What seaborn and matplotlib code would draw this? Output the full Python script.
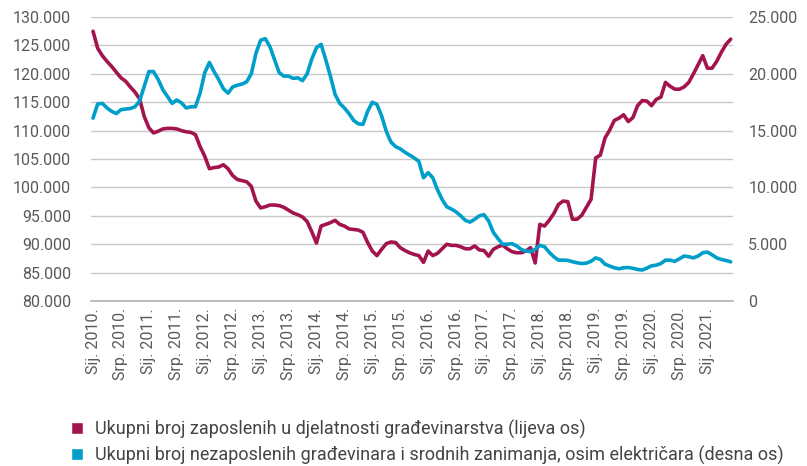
import numpy as np
import pandas as pd
import matplotlib.pyplot as plt
import matplotlib.ticker as mticker
from matplotlib.patches import Patch
import seaborn as sns

# mjesečni podaci, sij. 2010. - lip. 2021.
months = pd.date_range("2010-01-01", "2021-06-01", freq="MS")

# ukupni broj zaposlenih u građevinarstvu (lijeva os), u tisućama
employed_k = [
    127.5, 124.5, 123.2, 122.2, 121.3, 120.3, 119.3, 118.7, 117.7, 116.8, 115.6, 112.5,
    110.5, 109.6, 109.9, 110.3, 110.4, 110.4, 110.3, 110.0, 109.8, 109.7, 109.3, 107.2,
    105.5, 103.3, 103.5, 103.6, 104.0, 103.3, 102.1, 101.4, 101.2, 101.0, 100.2, 97.6,
    96.4, 96.6, 96.9, 96.9, 96.8, 96.5, 96.0, 95.5, 95.2, 94.8, 94.0, 92.2,
    90.2, 93.2, 93.5, 93.8, 94.2, 93.5, 93.2, 92.7, 92.6, 92.5, 92.1, 90.3,
    88.8, 88.0, 89.1, 90.1, 90.4, 90.3, 89.4, 88.9, 88.5, 88.2, 88.0, 86.8,
    88.8, 88.0, 88.4, 89.2, 90.0, 89.8, 89.8, 89.55, 89.2, 89.2, 89.7, 89.0,
    88.9, 87.9, 89.1, 89.55, 89.85, 89.2, 88.7, 88.5, 88.5, 88.8, 89.4, 86.7,
    93.5, 93.2, 94.2, 95.4, 97.0, 97.6, 97.5, 94.4, 94.4, 95.1, 96.5, 97.9,
    105.2, 105.7, 108.7, 110.1, 111.8, 112.2, 112.8, 111.6, 112.3, 114.4, 115.3, 115.2,
    114.4, 115.5, 115.9, 118.5, 117.8, 117.3, 117.3, 117.7, 118.5, 120.0, 121.6, 123.2,
    121.0, 121.0, 122.2, 123.8, 125.2, 126.1,
]

# nezaposleni građevinari (desna os), u tisućama
unemployed_k = [
    16.1, 17.35, 17.4, 17.0, 16.7, 16.5, 16.85, 16.9, 16.95, 17.1, 17.6, 18.9,
    20.2, 20.2, 19.5, 18.6, 18.0, 17.4, 17.7, 17.45, 17.0, 17.1, 17.1, 18.3,
    20.1, 21.0, 20.2, 19.5, 18.7, 18.3, 18.85, 19.0, 19.1, 19.3, 20.0, 21.8,
    22.95, 23.1, 22.4, 21.25, 20.1, 19.8, 19.8, 19.6, 19.65, 19.4, 20.0, 21.3,
    22.3, 22.6, 21.25, 19.8, 18.2, 17.4, 17.0, 16.5, 15.9, 15.6, 15.55, 16.7,
    17.5, 17.3, 16.3, 14.95, 14.0, 13.6, 13.4, 13.1, 12.85, 12.6, 12.3, 10.85,
    11.3, 10.85, 9.8, 8.95, 8.3, 8.1, 7.85, 7.5, 7.1, 6.95, 7.2, 7.5,
    7.6, 7.05, 6.05, 5.5, 5.0, 5.0, 5.05, 4.85, 4.55, 4.4, 4.35, 4.55,
    4.9, 4.78, 4.3, 3.9, 3.6, 3.6, 3.58, 3.46, 3.37, 3.3, 3.34, 3.5,
    3.8, 3.66, 3.25, 3.08, 2.93, 2.84, 2.93, 2.95, 2.88, 2.78, 2.73, 2.9,
    3.1, 3.16, 3.3, 3.6, 3.6, 3.49, 3.72, 3.96, 3.9, 3.8, 3.96, 4.25,
    4.31, 4.07, 3.8, 3.66, 3.57, 3.45,
]

tick_labels = [
    "Sij. 2010.", "Srp. 2010.", "Sij. 2011.", "Srp. 2011.", "Sij. 2012.", "Srp. 2012.",
    "Sij. 2013.", "Srp. 2013.", "Sij. 2014.", "Srp. 2014.", "Sij. 2015.", "Srp. 2015.",
    "Sij. 2016.", "Srp. 2016.", "Sij. 2017.", "Srp. 2017.", "Sij. 2018.", "Srp. 2018.",
    "Sij. 2019.", "Srp. 2019.", "Sij. 2020.", "Srp. 2020.", "Sij. 2021.",
]

legend_labels = [
    "Ukupni broj zaposlenih u djelatnosti građevinarstva (lijeva os)",
    "Ukupni broj nezaposlenih građevinara i srodnih zanimanja, osim električara (desna os)",
]

CRIMSON = "#A3144E"
CYAN = "#009FCA"
GREY_TXT = "#5A5A5A"

df = pd.DataFrame({
    "idx": np.arange(len(months)),
    "employed": np.array(employed_k) * 1000,
    "unemployed": np.array(unemployed_k) * 1000,
})

sns.set_style("white")
plt.rcParams["font.family"] = ["Roboto", "DejaVu Sans"]

fig = plt.figure(figsize=(8.07, 4.66), dpi=100)
ax = fig.add_axes([0.1124, 0.354, 0.7959, 0.6094])
ax2 = ax.twinx()

sns.lineplot(data=df, x="idx", y="employed", ax=ax, color=CRIMSON, linewidth=2.6)
sns.lineplot(data=df, x="idx", y="unemployed", ax=ax2, color=CYAN, linewidth=2.6)

n = len(months)
ax.set_xlim(-0.5, n - 0.5)
ax.set_ylim(80000, 130000)
ax2.set_ylim(0, 25000)

fmt = mticker.FuncFormatter(lambda v, p: f"{v:,.0f}".replace(",", "."))
ax.yaxis.set_major_locator(mticker.MultipleLocator(5000))
ax.yaxis.set_major_formatter(fmt)
ax2.yaxis.set_major_locator(mticker.MultipleLocator(5000))
ax2.yaxis.set_major_formatter(fmt)

ax.set_xticks(np.arange(0, n, 6))
ax.set_xticklabels(tick_labels, rotation=90)
ax.set_xticks(np.arange(-0.5, n, 6), minor=True)

ax.grid(axis="y", color="#C8C8C8", linewidth=1.0)
ax.set_axisbelow(True)

for a in (ax, ax2):
    for s in ("top", "left", "right"):
        a.spines[s].set_visible(False)
    a.spines["bottom"].set_color("#BDBDBD")
    a.spines["bottom"].set_linewidth(1.2)
    a.set_xlabel("")
    a.set_ylabel("")

ax.tick_params(axis="x", which="major", length=0, pad=5, labelsize=11.5, labelcolor=GREY_TXT)
ax.tick_params(axis="x", which="minor", length=4, width=1.2, color="#BDBDBD", direction="out")
ax.tick_params(axis="y", length=0, pad=14, labelsize=11.5, labelcolor=GREY_TXT)
ax2.tick_params(axis="y", length=0, pad=11, labelsize=11.5, labelcolor=GREY_TXT)

handles = [Patch(facecolor=CRIMSON), Patch(facecolor=CYAN)]
fig.legend(handles, legend_labels, loc="upper left", bbox_to_anchor=(0.088, 0.099),
           frameon=False, handlelength=0.65, handleheight=0.65, handletextpad=0.7,
           labelspacing=0.38, borderpad=0, borderaxespad=0,
           prop={"size": 13}, labelcolor="#444444")

fig.savefig("out.png", dpi=100)
